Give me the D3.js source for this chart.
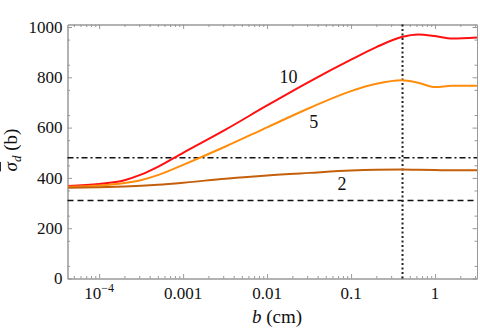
<!DOCTYPE html>
<html lang="en">
<head>
<meta charset="UTF-8">
<title>sigma_d vs b</title>
<script src="https://cdn.jsdelivr.net/npm/d3@7"></script>
<style>
  body { margin: 0; background: #fff; }
  svg text { font-family: 'Liberation Serif', 'Times New Roman', Times, 'DejaVu Serif', 'Noto Serif', serif; fill: #111; }
</style>
</head>
<body>
<script>
  // data
  var bVals = [4.3e-5, 1e-4, 2e-4, 3.2e-4, 5e-4, 1e-3, 3.2e-3, 0.01, 0.032, 0.1, 0.2, 0.4, 0.63, 1, 1.6, 3.16];
  var sig10 = [368, 376, 391, 414, 444, 500, 592, 688, 783, 870, 920, 960, 970, 964, 954, 958];
  var sig5  = [365, 370, 380, 392, 411, 452, 525, 601, 678, 745, 774, 788, 778, 761, 766, 766];
  var sig2  = [361, 363, 366, 369, 373, 381, 397, 410, 420, 429, 432, 433, 432, 431, 430, 430];
  var seriesNames = ['10', '5', '2'];
  var xMajor = [1e-4, 1e-3, 0.01, 0.1, 1];
  var xLabels = ['10^-4', '0.001', '0.01', '0.1', '1'];
  var yMajor = [0, 200, 400, 600, 800, 1000];
  var dashDotLevel = 480, dashLevel = 310, bMark = 0.41;

  var W = 480, H = 332;
  var m = {left: 67.5, right: 3, top: 24.5, bottom: 53.5};
  var svg = d3.select('body').append('svg').attr('width', W).attr('height', H);

  var x = d3.scaleLog().domain([4.2e-5, 3.16]).range([m.left, W - m.right]);
  var y = d3.scaleLinear().domain([0, 1010]).range([H - m.bottom, m.top]);

  var xMinor = [];
  [1e-5, 1e-4, 1e-3, 0.01, 0.1, 1].forEach(function(d){
    for (var k = 2; k <= 9; k++) {
      var v = k * d;
      if (v >= x.domain()[0] && v <= x.domain()[1]) xMinor.push(v);
    }
  });
  var yMinor = d3.range(50, 1010, 100);

  var frameColor = '#999';
  function styleAxis(g){
    g.selectAll('path, line').attr('stroke', frameColor);
    g.selectAll('text').remove();
  }
  var x0 = H - m.bottom, y0 = m.top;
  svg.append('g').attr('transform', 'translate(0,' + x0 + ')')
    .call(d3.axisBottom(x).tickValues(xMajor).tickSize(-4.5).tickSizeOuter(0)).call(styleAxis);
  svg.append('g').attr('transform', 'translate(0,' + x0 + ')')
    .call(d3.axisBottom(x).tickValues(xMinor).tickSize(-2.5).tickSizeOuter(0)).call(styleAxis);
  svg.append('g').attr('transform', 'translate(0,' + y0 + ')')
    .call(d3.axisTop(x).tickValues(xMajor).tickSize(-4.5).tickSizeOuter(0)).call(styleAxis);
  svg.append('g').attr('transform', 'translate(0,' + y0 + ')')
    .call(d3.axisTop(x).tickValues(xMinor).tickSize(-2.5).tickSizeOuter(0)).call(styleAxis);
  svg.append('g').attr('transform', 'translate(' + m.left + ',0)')
    .call(d3.axisLeft(y).tickValues(yMajor).tickSize(-4.5).tickSizeOuter(0)).call(styleAxis);
  svg.append('g').attr('transform', 'translate(' + m.left + ',0)')
    .call(d3.axisLeft(y).tickValues(yMinor).tickSize(-2.5).tickSizeOuter(0)).call(styleAxis);
  svg.append('g').attr('transform', 'translate(' + (W - m.right) + ',0)')
    .call(d3.axisRight(y).tickValues(yMajor).tickSize(-4.5).tickSizeOuter(0)).call(styleAxis);
  svg.append('g').attr('transform', 'translate(' + (W - m.right) + ',0)')
    .call(d3.axisRight(y).tickValues(yMinor).tickSize(-2.5).tickSizeOuter(0)).call(styleAxis);

  // tick labels
  svg.append('g').selectAll('text').data(yMajor).enter().append('text')
    .attr('x', m.left - 5).attr('y', function(d){ return y(d); })
    .attr('dy', '0.34em').attr('text-anchor', 'end').attr('font-size', 17)
    .text(function(d){ return d; });

  var xl = svg.append('g').selectAll('text').data(xMajor).enter().append('text')
    .attr('x', function(d){ return x(d); }).attr('y', x0 + 20)
    .attr('text-anchor', 'middle').attr('font-size', 17);
  xl.each(function(d, i){
    var t = d3.select(this), lab = xLabels[i];
    if (lab.indexOf('^') >= 0) {
      var p = lab.split('^');
      t.append('tspan').text(p[0]);
      t.append('tspan').attr('dy', -7).attr('font-size', 12).text(p[1].replace('-', '\u2212'));
    } else {
      t.text(lab);
    }
  });

  // reference lines
  var clip = {x1: m.left, x2: W - m.right};
  svg.append('line').attr('x1', clip.x1).attr('x2', clip.x2)
    .attr('y1', y(dashDotLevel)).attr('y2', y(dashDotLevel))
    .attr('stroke', '#111').attr('stroke-width', 1.5).attr('stroke-dasharray', '6,3,2,3');
  svg.append('line').attr('x1', clip.x1).attr('x2', clip.x2)
    .attr('y1', y(dashLevel)).attr('y2', y(dashLevel))
    .attr('stroke', '#111').attr('stroke-width', 1.5).attr('stroke-dasharray', '6,4');
  svg.append('line').attr('x1', x(bMark)).attr('x2', x(bMark))
    .attr('y1', m.top).attr('y2', H - m.bottom)
    .attr('stroke', '#222').attr('stroke-width', 2).attr('stroke-dasharray', '2,2.5');

  // curves
  var series = [sig10, sig5, sig2];
  var colors = ['#ff1010', '#ff8c0a', '#c4600c'];
  var line = d3.line()
    .x(function(d, i){ return x(bVals[i]); })
    .y(function(d){ return y(d); })
    .curve(d3.curveMonotoneX);
  svg.append('g').selectAll('path').data(series).enter().append('path')
    .attr('d', line).attr('fill', 'none')
    .attr('stroke', function(d, i){ return colors[i]; })
    .attr('stroke-width', 2);

  // curve labels
  var labelPos = [[0.018, 800], [0.036, 622], [0.078, 375]];
  svg.append('g').selectAll('text').data(seriesNames).enter().append('text')
    .attr('x', function(d, i){ return x(labelPos[i][0]); })
    .attr('y', function(d, i){ return y(labelPos[i][1]); })
    .attr('dy', '0.34em').attr('text-anchor', 'middle').attr('font-size', 18)
    .text(function(d){ return d; });

  // axis titles
  var xt = svg.append('text').attr('x', 277).attr('y', 323)
    .attr('text-anchor', 'middle').attr('font-size', 19);
  xt.append('tspan').attr('font-style', 'italic').text('b');
  xt.append('tspan').text(' (cm)');

  var yt = svg.append('text').attr('transform', 'translate(17,' + 150 + ') rotate(-90)')
    .attr('text-anchor', 'middle').attr('font-size', 19);
  yt.append('tspan').attr('font-style', 'italic').style('text-decoration', 'overline').text('\u03c3');
  yt.append('tspan').attr('font-style', 'italic').attr('font-size', 13).attr('dy', 4).text('d');
  yt.append('tspan').attr('dy', -4).text(' (b)');
</script>
</body>
</html>
